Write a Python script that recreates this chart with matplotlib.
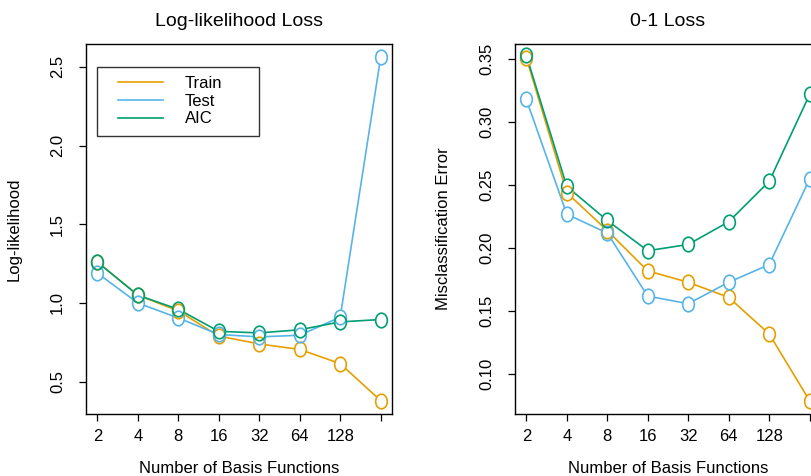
import numpy as np
import matplotlib
matplotlib.use('Agg')
import matplotlib.pyplot as plt
from matplotlib.path import Path
from matplotlib.patches import Rectangle
from matplotlib.transforms import Affine2D

plt.rcParams['font.family'] = ['Liberation Sans', 'DejaVu Sans']

# number of basis functions (plotted on log2 scale)
n_basis = [2, 4, 8, 16, 32, 64, 128, 256]
x_labels = ["2", "4", "8", "16", "32", "64", "128", ""]

# log-likelihood loss panel
ll_train = [1.26, 1.05, 0.95, 0.79, 0.74, 0.705, 0.615, 0.38]
ll_test = [1.19, 1.00, 0.905, 0.80, 0.785, 0.795, 0.91, 2.56]
ll_aic = [1.26, 1.05, 0.96, 0.82, 0.81, 0.83, 0.88, 0.895]

# 0-1 loss panel
err_train = [0.351, 0.244, 0.214, 0.182, 0.173, 0.161, 0.132, 0.079]
err_test = [0.318, 0.227, 0.212, 0.162, 0.156, 0.173, 0.187, 0.255]
err_aic = [0.353, 0.249, 0.222, 0.198, 0.203, 0.221, 0.253, 0.322]

series_names = ["Train", "Test", "AIC"]
colors = ["#E69F00", "#56B4E9", "#009E73"]

# letter-O like marker (slightly taller than wide)
o_marker = Path.unit_circle().transformed(Affine2D().scale(0.8, 1.0))


def draw_panel(ax, ys, title, ylabel, yticks, yticklabels, ylim):
    x = np.log2(n_basis)
    for y, c, name in zip(ys, colors, series_names):
        ax.plot(x, y, color=c, lw=1.2, zorder=1, label=name)
    for y in ys:
        ax.plot(x, y, ls='none', marker=o_marker, ms=10.5, mfc='white',
                mec='none', zorder=2)
    for y, c in zip(ys, colors):
        ax.plot(x, y, ls='none', marker=o_marker, ms=10.5, mfc='none',
                mec=c, mew=1.2, zorder=3)
    ax.set_xlim(0.72, 8.28)
    ax.set_ylim(*ylim)
    ax.set_xticks(x)
    ax.set_xticklabels(x_labels)
    ax.set_yticks(yticks)
    ax.set_yticklabels(yticklabels, rotation=90, va='center')
    ax.tick_params(axis='both', direction='out', length=5, width=0.9,
                   labelsize=12, colors='black')
    ax.tick_params(axis='x', pad=6)
    ax.tick_params(axis='y', pad=10)
    for sp in ax.spines.values():
        sp.set_linewidth(1.0)
        sp.set_color('black')
    ax.set_title(title, fontsize=14, pad=13)
    ax.set_xlabel("Number of Basis Functions", fontsize=12)
    ax.set_ylabel(ylabel, fontsize=12)
    ax.xaxis.set_label_coords(0.5, -0.128)
    ax.yaxis.set_label_coords(-0.21, 0.5)


fig = plt.figure(figsize=(8.12, 4.76), dpi=100)
ax1 = fig.add_axes([86 / 812, 62 / 476, 306 / 812, 370 / 476])
ax2 = fig.add_axes([515 / 812, 62 / 476, 306 / 812, 370 / 476])

draw_panel(ax1, [ll_train, ll_test, ll_aic], "Log-likelihood Loss",
           "Log-likelihood", [0.5, 1.0, 1.5, 2.0, 2.5],
           ["0.5", "1.0", "1.5", "2.0", "2.5"], (0.295, 2.645))
draw_panel(ax2, [err_train, err_test, err_aic], "0-1 Loss",
           "Misclassification Error", [0.10, 0.15, 0.20, 0.25, 0.30, 0.35],
           ["0.10", "0.15", "0.20", "0.25", "0.30", "0.35"], (0.0685, 0.362))

# R-style legend: entries without frame, plus a wide box around them
leg = ax1.legend(loc='upper left', bbox_to_anchor=(0.1046, 0.914), fontsize=12,
                 frameon=False, handlelength=2.7, handletextpad=1.3,
                 labelspacing=0.17, borderpad=0, borderaxespad=0)
for t in leg.get_texts():
    t.set_color('black')
ax1.add_patch(Rectangle((0.036, 0.751), 0.529, 0.187, transform=ax1.transAxes,
                        fill=False, edgecolor='#333333', lw=1.0, zorder=4))

fig.savefig("out.png", dpi=100)
